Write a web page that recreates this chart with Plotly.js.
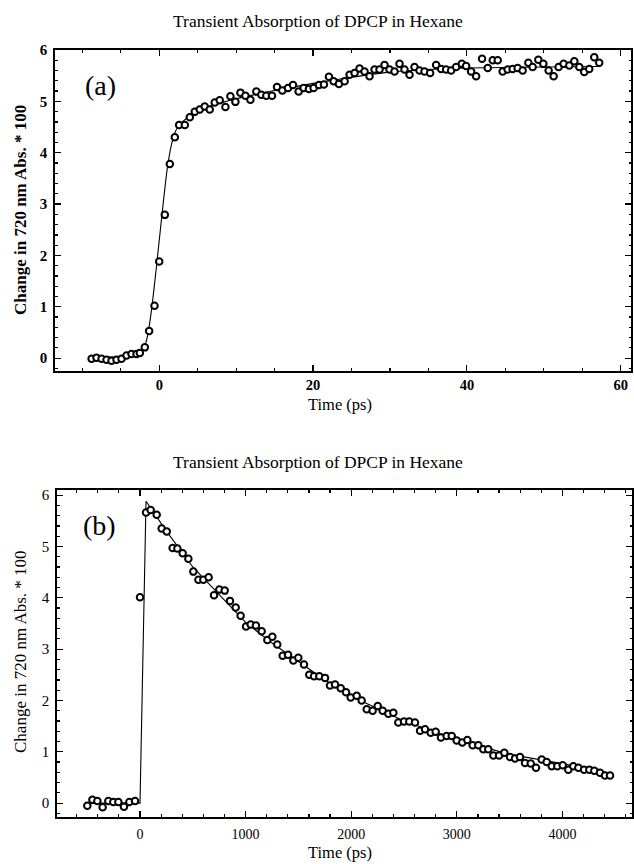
<!DOCTYPE html>
<html>
<head>
<meta charset="utf-8">
<script src="https://cdn.plot.ly/plotly-3.0.1.min.js"></script>
<style>html,body{margin:0;padding:0;background:#fff;}#chart{width:634px;height:864px;}</style>
</head>
<body>
<div id="chart"></div>
<script>
// ---------- Panel (a): short time window ----------
const timeA = [-8.8,-8.16,-7.5,-6.86,-6.21,-5.56,-4.91,-4.26,-3.61,-2.96,-2.53,-1.88,-1.32,-0.62,-0.01,0.72,1.37,2.02,2.58,3.32,3.97,4.62,5.26,5.91,6.56,7.21,7.86,8.6,9.25,9.9,10.55,11.2,11.85,12.62,13.27,13.92,14.66,15.31,16.0,16.74,17.39,18.12,18.77,19.46,20.07,20.76,21.41,22.06,22.67,23.36,24.1,24.75,25.4,26.04,26.69,27.34,27.99,28.64,29.29,29.94,30.59,31.24,31.89,32.54,33.19,33.84,34.49,35.22,36.0,36.65,37.3,37.95,38.6,39.34,39.9,40.55,41.2,41.97,42.71,43.36,44.01,44.65,45.3,45.95,46.6,47.25,47.99,48.55,49.29,49.94,50.63,51.28,51.93,52.58,53.32,53.97,54.62,55.26,55.91,56.56,57.21];
const signalA = [-0.01,0.01,-0.01,-0.03,-0.05,-0.03,-0.01,0.05,0.08,0.08,0.10,0.21,0.53,1.02,1.88,2.79,3.78,4.30,4.54,4.54,4.69,4.80,4.84,4.90,4.84,4.98,5.02,4.89,5.10,4.99,5.17,5.11,5.03,5.19,5.13,5.11,5.11,5.28,5.21,5.26,5.32,5.19,5.26,5.24,5.26,5.32,5.33,5.48,5.39,5.34,5.39,5.52,5.55,5.64,5.58,5.49,5.62,5.62,5.71,5.62,5.58,5.73,5.62,5.52,5.67,5.60,5.58,5.55,5.71,5.63,5.62,5.60,5.67,5.73,5.69,5.58,5.49,5.83,5.65,5.80,5.80,5.58,5.62,5.63,5.65,5.60,5.75,5.67,5.81,5.73,5.60,5.49,5.67,5.73,5.70,5.78,5.67,5.57,5.63,5.86,5.75];
const fitTimeA = [-8.8,-4,-3,-2.5,-2,-1.5,-1,-0.5,0,0.5,1,1.5,2,2.5,3,4,5,6,8,10,13,16,20,25,30,35,40,45,50,57.2];
const fitA = [0.02,0.03,0.06,0.1,0.2,0.45,0.95,1.6,2.3,3.0,3.65,4.1,4.38,4.52,4.6,4.72,4.8,4.87,4.97,5.05,5.15,5.24,5.35,5.47,5.57,5.62,5.65,5.66,5.67,5.68];

// ---------- Panel (b): long time window ----------
const timeB = [-499,-451,-404,-354,-300,-253,-205,-152,-101,-47,0,57,101,158,205,253,309,354,404,458,505,553,600,650,701,751,802,852,906,953,1004,1048,1098,1152,1206,1253,1300,1351,1402,1452,1499,1553,1603,1648,1698,1752,1799,1847,1901,1951,1995,2052,2099,2147,2203,2251,2298,2352,2399,2446,2500,2550,2604,2652,2699,2753,2800,2850,2904,2952,2999,3052,3100,3150,3204,3251,3298,3346,3400,3450,3504,3551,3598,3646,3700,3750,3804,3851,3899,3952,4003,4056,4103,4151,4205,4255,4302,4356,4403,4451];
const signalB = [-0.05,0.065,0.04,-0.08,0.04,0.02,0.02,-0.07,0.02,0.04,4.01,5.66,5.71,5.62,5.35,5.29,4.97,4.96,4.87,4.76,4.51,4.35,4.35,4.40,4.05,4.16,4.14,3.94,3.81,3.65,3.44,3.48,3.46,3.35,3.18,3.24,3.09,2.87,2.89,2.78,2.83,2.70,2.50,2.47,2.47,2.44,2.29,2.31,2.24,2.16,2.06,2.09,2.00,1.83,1.80,1.89,1.80,1.74,1.76,1.57,1.59,1.59,1.57,1.41,1.44,1.37,1.39,1.28,1.31,1.31,1.22,1.18,1.23,1.13,1.13,1.05,1.05,0.93,0.93,0.98,0.90,0.87,0.90,0.78,0.77,0.69,0.85,0.80,0.72,0.72,0.74,0.65,0.72,0.69,0.65,0.65,0.63,0.59,0.54,0.54];
const fitTimeB = [-499,0,57,250,500,750,1000,1250,1500,1750,2000,2500,3000,3500,4000,4451];
const fitB = [0.0,0.0,5.88,5.3,4.6,4.05,3.52,3.12,2.76,2.4,2.08,1.6,1.24,0.95,0.77,0.58];

const titleText = 'Transient Absorption of DPCP in Hexane';
const yTitleText = 'Change in 720 nm Abs. * 100';
const xTitleText = 'Time (ps)';
const yTicksA = [0,1,2,3,4,5,6];
const xTicksA = [0,20,40,60];
const xTicksB = [0,1000,2000,3000,4000];

const serif = 'Liberation Serif, Times New Roman, serif';
const markerStyle = {symbol:'circle', size:6.5, color:'white', line:{color:'black', width:2}};

const traces = [
  {x:fitTimeA, y:fitA, mode:'lines', line:{color:'black', width:1.1, shape:'spline', smoothing:0.6}, xaxis:'x', yaxis:'y', hoverinfo:'skip'},
  {x:timeA, y:signalA, mode:'markers', marker:markerStyle, xaxis:'x', yaxis:'y'},
  {x:fitTimeB, y:fitB, mode:'lines', line:{color:'black', width:1.1}, xaxis:'x2', yaxis:'y2', hoverinfo:'skip'},
  {x:timeB, y:signalB, mode:'markers', marker:markerStyle, xaxis:'x2', yaxis:'y2'}
];

const axisCommon = {
  showgrid:false, zeroline:false, showline:true, linecolor:'black', linewidth:1.8,
  mirror:'allticks', ticks:'inside', ticklen:6, tickwidth:1.2, tickcolor:'black',
  tickfont:{family:serif, size:15, color:'black'}
};

const W = 577, H = 767;
const px = v => (v - 55) / W;
const py = v => (817 - v) / H;

const layout = {
  width:634, height:864,
  margin:{l:55, r:2, t:50, b:47},
  paper_bgcolor:'white', plot_bgcolor:'white',
  showlegend:false,
  xaxis: Object.assign({}, axisCommon, {
    domain:[0, 576/577], range:[-13.56, 61.34], anchor:'y',
    tickvals:xTicksA, ticktext:xTicksA.map(String),
    tickfont:{family:serif, size:14.5, color:'black', weight:'bold'},
    ticklabelstandoff:0,
    minor:{dtick:5, tick0:0, ticks:'inside', ticklen:3, tickcolor:'black'}
  }),
  yaxis: Object.assign({}, axisCommon, {
    domain:[(817-371)/767, 1], range:[-0.25, 6.0], anchor:'x',
    tickvals:yTicksA, ticktext:yTicksA.map(String),
    tickfont:{family:serif, size:15, color:'black', weight:'bold'},
    ticklabelstandoff:3,
    minor:{dtick:0.2, tick0:0, ticks:'inside', ticklen:2.5, tickcolor:'black'}
  }),
  xaxis2: Object.assign({}, axisCommon, {
    domain:[2/577, 1], range:[-786, 4659], anchor:'y2',
    tickvals:xTicksB, ticktext:xTicksB.map(String),
    tickfont:{family:serif, size:14, color:'black'},
    ticklabelstandoff:3,
    minor:{dtick:200, tick0:0, ticks:'inside', ticklen:3, tickcolor:'black'}
  }),
  yaxis2: Object.assign({}, axisCommon, {
    domain:[0, (817-490)/767], range:[-0.27, 6.1], anchor:'x2',
    tickvals:yTicksA, ticktext:yTicksA.map(String),
    tickfont:{family:serif, size:15, color:'black'},
    ticklabelstandoff:3,
    minor:{dtick:0.2, tick0:0, ticks:'inside', ticklen:2.5, tickcolor:'black'}
  }),
  annotations:[
    {text:titleText, xref:'paper', yref:'paper', x:px(318), y:py(21), showarrow:false, xanchor:'center', yanchor:'middle', font:{family:serif, size:17.5, color:'black'}},
    {text:titleText, xref:'paper', yref:'paper', x:px(318), y:py(462), showarrow:false, xanchor:'center', yanchor:'middle', font:{family:serif, size:17.5, color:'black'}},
    {text:xTitleText, xref:'paper', yref:'paper', x:px(340), y:py(404), showarrow:false, xanchor:'center', yanchor:'middle', font:{family:serif, size:16.5, color:'black'}},
    {text:xTitleText, xref:'paper', yref:'paper', x:px(340), y:py(852), showarrow:false, xanchor:'center', yanchor:'middle', font:{family:serif, size:16.5, color:'black'}},
    {text:yTitleText, xref:'paper', yref:'paper', x:px(20), y:py(210), showarrow:false, textangle:-90, xanchor:'center', yanchor:'middle', font:{family:serif, size:17, color:'black', weight:'bold'}},
    {text:yTitleText, xref:'paper', yref:'paper', x:px(20), y:py(652), showarrow:false, textangle:-90, xanchor:'center', yanchor:'middle', font:{family:serif, size:17, color:'black'}},
    {text:'(a)', xref:'paper', yref:'paper', x:px(100), y:py(86), showarrow:false, xanchor:'center', yanchor:'middle', font:{family:serif, size:28, color:'black'}},
    {text:'(b)', xref:'paper', yref:'paper', x:px(99), y:py(525), showarrow:false, xanchor:'center', yanchor:'middle', font:{family:serif, size:28, color:'black'}}
  ]
};

Plotly.newPlot('chart', traces, layout, {staticPlot:true, displayModeBar:false});
</script>
</body>
</html>
